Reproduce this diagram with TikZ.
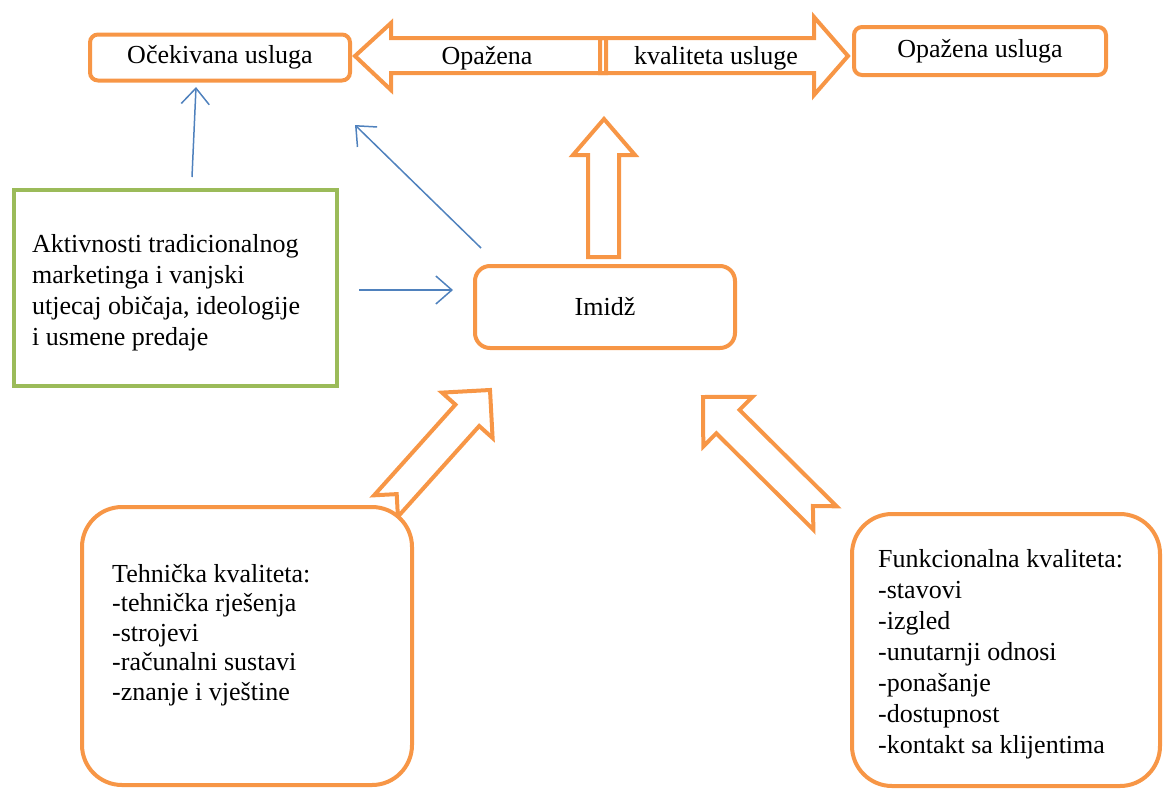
\documentclass[tikz,border=0pt]{standalone}
\usepackage{fontspec}
\setmainfont{Liberation Serif}
\usetikzlibrary{arrows.meta}
\definecolor{orng}{HTML}{F79646}
\definecolor{grn}{HTML}{9BBB59}
\definecolor{blu}{HTML}{4F81BD}
\newcommand\dgfont{\fontsize{26}{31}\selectfont}
\tikzset{
  obox/.style={draw=orng, line width=4pt, fill=white, rounded corners=#1, inner sep=0pt, font=\dgfont},
  gbox/.style={draw=grn, line width=4.5pt, fill=white, inner sep=0pt},
  blk/.style={draw=orng, line width=4pt, line join=miter},
  lbl/.style={font=\dgfont, inner sep=0pt},
  barr/.style={draw=blu, line width=1.5pt, -{Straight Barb[length=16pt,width=28pt]}}
}
\begin{document}
\begin{tikzpicture}[x=1pt,y=-1pt]
\useasboundingbox (0,0) rectangle (1165,788);
% top block arrows
\draw[blk] (600,38) -- (814,38) -- (814,17) -- (848,56) -- (814,95) -- (814,73) -- (600,73) -- cycle;
\draw[blk] (606,38) -- (391,38) -- (391,23) -- (355,56) -- (391,90) -- (391,73) -- (606,73) -- cycle;
\node[lbl, anchor=base] (opz) at (487,64) {Opažena};
\node[lbl, anchor=base] (kval) at (716,64) {kvaliteta usluge};
% boxes top
\node[obox=8pt, minimum width=260pt, minimum height=46pt] (oce) at (220,57.5) {Očekivana usluga};
\node[obox=8pt, minimum width=252pt, minimum height=48pt] (opu) at (980,51) {Opažena usluga};
% up arrow above Imidz
\draw[blk] (588,257) -- (588,155) -- (573,155) -- (604,119) -- (635,155) -- (619,155) -- (619,257) -- cycle;
% diagonal block arrows
\draw[blk] (374.1,495.3) -- (396.7,494.1) -- (397.9,516.7) -- (479.2,426) -- (492.6,438) -- (490,390) -- (442,392.6) -- (455.4,404.6) -- cycle;
\draw[blk] (836.6,506.3) -- (739.5,409.9) -- (752.5,396.8) -- (703,397) -- (703.3,446.4) -- (716.3,433.3) -- (813.4,529.7) -- (812.9,506) -- cycle;
% Imidz
\node[obox=15pt, minimum width=260pt, minimum height=82pt] (imi) at (605,307) {Imidž};
% green box
\node[gbox, minimum width=323pt, minimum height=196pt] (grnbox) at (175.5,288) {};
\node[lbl, anchor=base west] (grntxt) at (32,252) {\begin{tabular}[t]{@{}l@{}}Aktivnosti tradicionalnog\\ marketinga i vanjski\\ utjecaj običaja, ideologije\\ i usmene predaje\end{tabular}};
% bottom boxes
\node[obox=40pt, minimum width=330pt, minimum height=278pt] (teh) at (247,646) {};
\node[lbl, anchor=base west] (tehtxt) at (112,582) {\fontsize{26}{29.5}\selectfont\begin{tabular}[t]{@{}l@{}}Tehnička kvaliteta:\\ -tehnička rješenja\\ -strojevi\\ -računalni sustavi\\ -znanje i vještine\end{tabular}};
\node[obox=40pt, minimum width=308pt, minimum height=272pt] (fun) at (1006,650) {};
\node[lbl, anchor=base west] (funtxt) at (878,567) {\begin{tabular}[t]{@{}l@{}}Funkcionalna kvaliteta:\\ -stavovi\\ -izgled\\ -unutarnji odnosi\\ -ponašanje\\ -dostupnost\\ -kontakt sa klijentima\end{tabular}};
% blue arrows
\coordinate (b1s) at (192,177);
\coordinate (b1e) at (196,87);
\coordinate (b2s) at (481,248);
\coordinate (b2e) at (355,125);
\coordinate (b3s) at (359,290);
\coordinate (b3e) at (453,290);
\draw[barr] (b1s) -- (b1e);
\draw[barr] (b2s) -- (b2e);
\draw[barr] (b3s) -- (b3e);
\end{tikzpicture}
\end{document}
